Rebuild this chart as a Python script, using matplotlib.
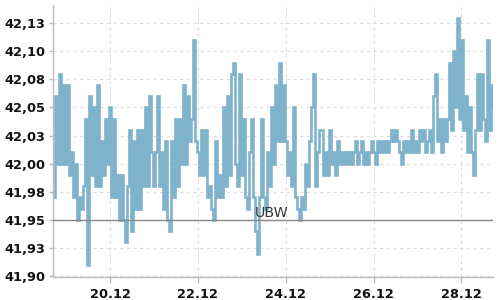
import matplotlib
matplotlib.use("Agg")
import matplotlib.pyplot as plt
import pandas as pd
import numpy as np

# ---- data ----
start_time = "2024-12-18 17:00"
end_time = "2024-12-28 17:00"

price = [
    41.97, 42.06, 42.00, 42.08, 42.00, 42.07, 42.00, 42.07, 41.99, 42.01,
    41.97, 42.00, 41.95, 41.97, 41.96, 41.98, 42.04, 41.91, 42.06, 41.99,
    42.05, 41.98, 42.07, 41.98, 42.02, 41.99, 42.04, 42.00, 42.05, 41.97,
    42.04, 41.97, 41.99, 41.95, 41.99, 41.95, 41.93, 41.98, 42.03, 41.94,
    42.02, 41.96, 42.03, 41.96,
    42.03, 41.98, 42.05, 41.98, 42.06, 42.01, 41.98, 42.01, 42.06, 41.98,
    42.01, 41.96, 42.02, 41.95, 41.94, 42.02, 41.97, 42.04, 41.98, 42.04,
    42.00, 42.07, 42.00, 42.06, 42.02, 42.04, 42.11, 42.02, 42.01, 41.99,
    42.03, 41.99, 42.03, 41.97, 41.98, 41.96, 41.95, 42.02, 41.97, 41.99,
    41.97, 42.05, 41.98, 42.06, 41.99,
    42.08, 42.09, 42.00, 41.98, 42.08, 41.99, 42.04, 41.97, 41.96, 42.01,
    42.04, 41.97, 41.94, 41.92, 41.97, 42.04, 41.97, 41.96, 42.01, 41.98,
    42.05, 42.00, 42.07, 42.02, 42.09, 42.02, 42.07, 42.02, 41.99, 42.01,
    41.98, 42.05, 41.97, 41.96, 41.95, 41.97, 41.96, 42.00, 41.98, 42.02,
    42.05, 42.08, 41.98, 42.01, 42.03,
    42.03, 41.99, 42.01, 41.99, 42.03, 42.00, 42.01, 41.99, 42.02, 42.00,
    42.01, 42.00, 42.01, 42.00, 42.01, 42.00, 42.01, 42.02, 42.00, 42.01,
    42.02, 42.00, 42.01, 42.00, 42.01, 42.02, 42.01, 42.00, 42.02, 42.01,
    42.02, 42.01, 42.02, 42.01, 42.02, 42.03, 42.02, 42.03, 42.02, 42.01,
    42.00, 42.02, 42.01, 42.02, 42.01,
    42.03, 42.01, 42.02, 42.01, 42.03, 42.02, 42.03, 42.01, 42.02, 42.03,
    42.01, 42.06, 42.08, 42.02, 42.04, 42.01, 42.04, 42.02, 42.04, 42.09,
    42.03, 42.10, 42.05, 42.13, 42.04, 42.11, 42.03, 42.06, 42.01, 42.05,
    42.01, 41.99, 42.03, 42.08, 42.03, 42.08, 42.04, 42.02, 42.11, 42.03,
    42.07, 42.05,
]

ref_level = 41.95
ref_label = "UBW"

y_ticks = [41.90, 41.925, 41.95, 41.975, 42.00, 42.025, 42.05, 42.075, 42.10, 42.125]
y_tick_labels = ["41,90", "41,93", "41,95", "41,98", "42,00",
                 "42,03", "42,05", "42,08", "42,10", "42,13"]
x_tick_dates = ["2024-12-20", "2024-12-22", "2024-12-24", "2024-12-26", "2024-12-28"]
x_tick_labels = ["20.12", "22.12", "24.12", "26.12", "28.12"]

# ---- figure ----
W, H = 500, 300
fig = plt.figure(figsize=(W / 100, H / 100), dpi=100)
left_px, right_px, top_px, bottom_px = 53.3, 492.5, 5, 277
ax = fig.add_axes([left_px / W, 1 - bottom_px / H,
                   (right_px - left_px) / W, (bottom_px - top_px) / H])

times = pd.date_range(start_time, end_time, periods=len(price))
ax.plot(times, price, color="#7fb3cc", lw=1.9, drawstyle="steps-post",
        solid_joinstyle="miter", zorder=2)

ax.axhline(ref_level, color="#8a8a8a", lw=1.0, zorder=3)
ax.text(0.459, ref_level + 0.0029, ref_label, transform=ax.get_yaxis_transform(),
        fontsize=10.3, color="#333333", va="baseline", ha="left", zorder=4)

ax.set_xlim(times[0], times[-1])
ax.set_ylim(41.8991, 42.1412)

ax.set_yticks(y_ticks)
ax.set_yticklabels(y_tick_labels)
ax.set_xticks(pd.to_datetime(x_tick_dates))
ax.set_xticklabels(x_tick_labels)

for lab in ax.get_xticklabels() + ax.get_yticklabels():
    lab.set_fontweight("bold")
    lab.set_fontsize(9.3)
    lab.set_color("#111111")

ax.tick_params(axis="y", length=3, width=1, color="#bbbbbb", pad=2.4)
ax.tick_params(axis="x", length=4, width=1, color="#bbbbbb", pad=4)

ax.grid(True, color="#dddddd", linestyle=(0, (3, 3)), linewidth=0.8, zorder=0)
ax.set_axisbelow(True)

for s in ("top", "right"):
    ax.spines[s].set_visible(False)
for s in ("left", "bottom"):
    ax.spines[s].set_color("#bbbbbb")
    ax.spines[s].set_linewidth(1)

fig.savefig("out.png", dpi=100)
